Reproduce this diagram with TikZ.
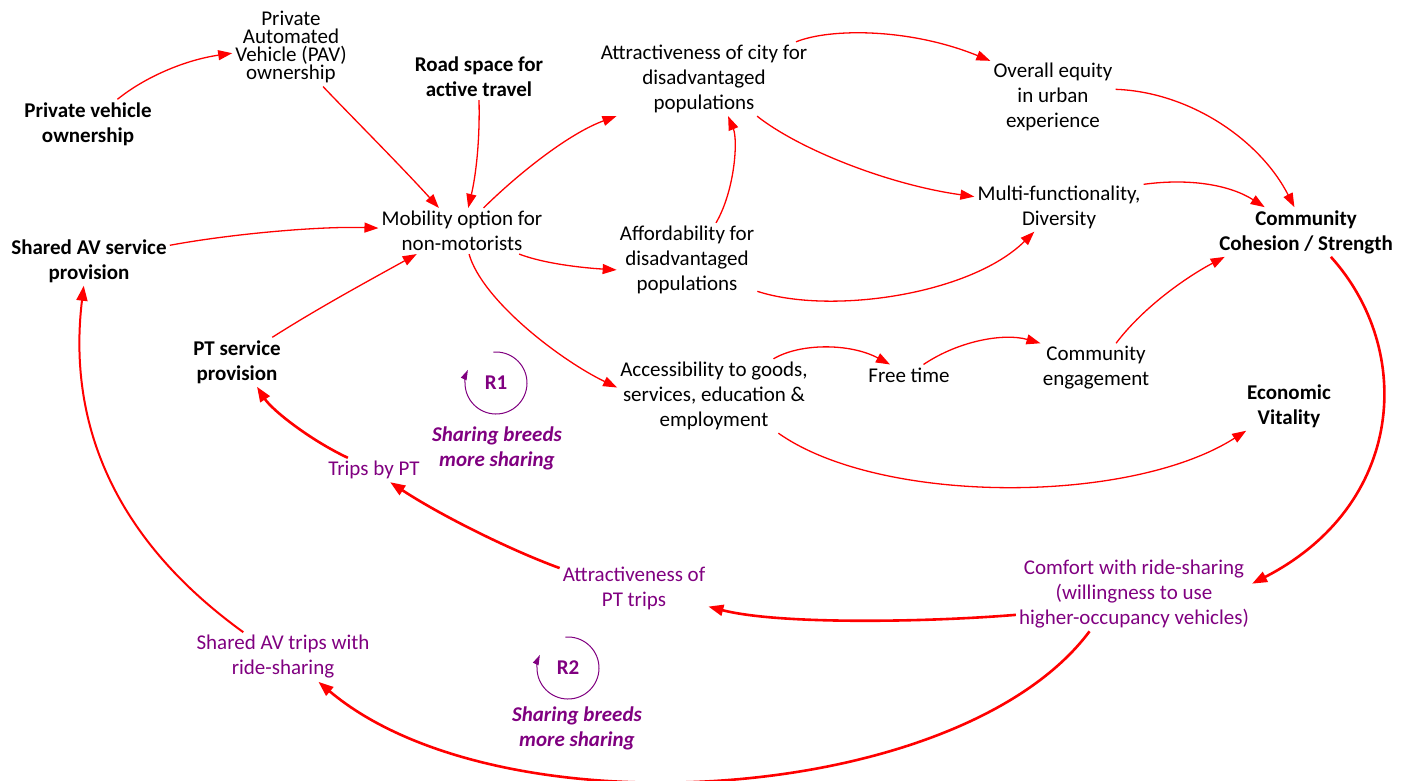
\documentclass[tikz,border=0pt]{standalone}
\usepackage{fontspec}
\setmainfont{Carlito}
\usetikzlibrary{arrows.meta}
\definecolor{arrred}{RGB}{255,0,0}
\definecolor{pur}{RGB}{128,0,128}
\begin{document}
\begin{tikzpicture}[x=1pt,y=-1pt,
  txt/.style={align=center,inner sep=3pt,font=\fontsize{21}{25}\selectfont},
  bt/.style={txt,font=\fontsize{21}{25}\selectfont\bfseries},
  ptxt/.style={txt,text=pur},
  lnk/.style={draw=arrred,line width=1.3pt,-{Triangle[length=14pt,width=10pt]}},
  lnkb/.style={draw=arrred,line width=2.6pt,-{Triangle[length=15pt,width=11pt]}},
  lnkm/.style={draw=arrred,line width=2pt,-{Triangle[length=15pt,width=11pt]}},
  looplbl/.style={inner sep=1pt,text=pur,font=\fontsize{21}{25}\selectfont\bfseries},
  looptxt/.style={align=center,inner sep=1pt,text=pur,font=\fontsize{21}{25}\selectfont\bfseries\itshape},
  loopar/.style={draw=pur,line width=1pt,-{Triangle[length=10pt,width=6pt]}}]
\useasboundingbox (0,0) rectangle (1405,780);
% nodes
\node[bt] (pvo) at (88,124) {Private vehicle\\ownership};
\node[txt,font=\fontsize{21}{18.3}\selectfont] (pav) at (291,47) {Private\\Automated\\Vehicle (PAV)\\ownership};
\node[bt] (road) at (479,77) {Road space for\\active travel};
\node[txt] (mob) at (462,231) {Mobility option for\\non-motorists};
\node[bt] (sav) at (89,261) {Shared AV service\\provision};
\node[bt] (pts) at (237,362) {PT service\\provision};
\node[txt] (attr) at (704,79) {Attractiveness of city for\\disadvantaged\\populations};
\node[txt] (eq) at (1053,97) {Overall equity\\in urban\\experience};
\node[txt] (multi) at (1059,207) {Multi-functionality,\\Diversity};
\node[bt] (coh) at (1306,232) {Community\\Cohesion / Strength};
\node[txt] (aff) at (687,260) {Affordability for\\disadvantaged\\populations};
\node[txt] (acc) at (714,396) {Accessibility to goods,\\services, education \&\\employment};
\node[txt] (free) at (909,375) {Free time};
\node[txt] (ceng) at (1096,368) {Community\\engagement};
\node[bt] (econ) at (1289,406) {Economic\\Vitality};
\node[ptxt] (trips) at (374,470) {Trips by PT};
\node[ptxt] (apt) at (634,588) {Attractiveness of\\PT trips};
\node[ptxt] (comf) at (1134,594) {Comfort with ride-sharing\\(willingness to use\\higher-occupancy vehicles)};
\node[ptxt] (savt) at (283,657) {Shared AV trips with\\ride-sharing};
% loops
\node[looplbl] (r1) at (496,383) {R1};
\node[looptxt] (r1t) at (497,448) {Sharing breeds\\more sharing};
\node[looplbl] (r2) at (568,668) {R2};
\node[looptxt] (r2t) at (577,728) {Sharing breeds\\more sharing};
\draw[loopar] (r1.center) ++(-95:31) arc[start angle=-95,end angle=205,radius=31];
\draw[loopar] (r2.center) ++(-95:31) arc[start angle=-95,end angle=205,radius=31];
% thin links
\draw[lnk] (pvo.40) .. controls (145,77) and (185,60) .. (pav.186);
\draw[lnk] (pav.309) .. controls (350,115) and (400,165) .. (mob.135);
\draw[lnk] (road.270) .. controls (480,140) and (476,175) .. (mob.75);
\draw[lnk] (mob.47) .. controls (520,172) and (570,133) .. (attr.203);
\draw[lnk] (sav.11.6) .. controls (230,234) and (320,226) .. (mob.178.6);
\draw[lnk] (pts.35.7) .. controls (320,307) and (370,280) .. (mob.207.5);
\draw[lnk] (mob.338) .. controls (545,264) and (585,268) .. (aff.188);
\draw[lnk] (mob.287.7) .. controls (482,300) and (560,360) .. (acc.175.6);
\draw[lnk] (aff.52.4) .. controls (735,190) and (738,140) .. (attr.303);
\draw[lnk] (attr.22) .. controls (830,28) and (910,28) .. (eq.150.4);
\draw[lnk] (attr.325.8) .. controls (800,150) and (890,185) .. (multi.173.5);
\draw[lnk] (eq.7.7) .. controls (1190,92) and (1260,140) .. (coh.115);
\draw[lnk] (multi.15) .. controls (1190,178) and (1230,185) .. (coh.149);
\draw[lnk] (aff.336) .. controls (830,315) and (970,295) .. (multi.225);
\draw[lnk] (acc.32.8) .. controls (800,343) and (850,343) .. (free.151);
\draw[lnk] (free.36) .. controls (960,340) and (1005,333) .. (ceng.156);
\draw[lnk] (ceng.51) .. controls (1145,305) and (1190,275) .. (coh.197);
\draw[lnk] (acc.330) .. controls (880,505) and (1130,505) .. (econ.210);
% thick links
\draw[lnkb] (coh.315) .. controls (1415,350) and (1405,505) .. (comf.5.5);
\draw[lnkb] (comf.190.5) .. controls (930,622) and (780,625) .. (apt.346.7);
\draw[lnkb] (comf.220) .. controls (960,805) and (500,835) .. (savt.325.6);
\draw[lnkb] (apt.165.4) .. controls (510,550) and (440,515) .. (trips.323.6);
\draw[lnkb] (trips.155) .. controls (310,440) and (272,410) .. (pts.309.6);
\draw[lnkm] (savt.148.5) .. controls (95,525) and (70,400) .. (sav.258);
\end{tikzpicture}
\end{document}
